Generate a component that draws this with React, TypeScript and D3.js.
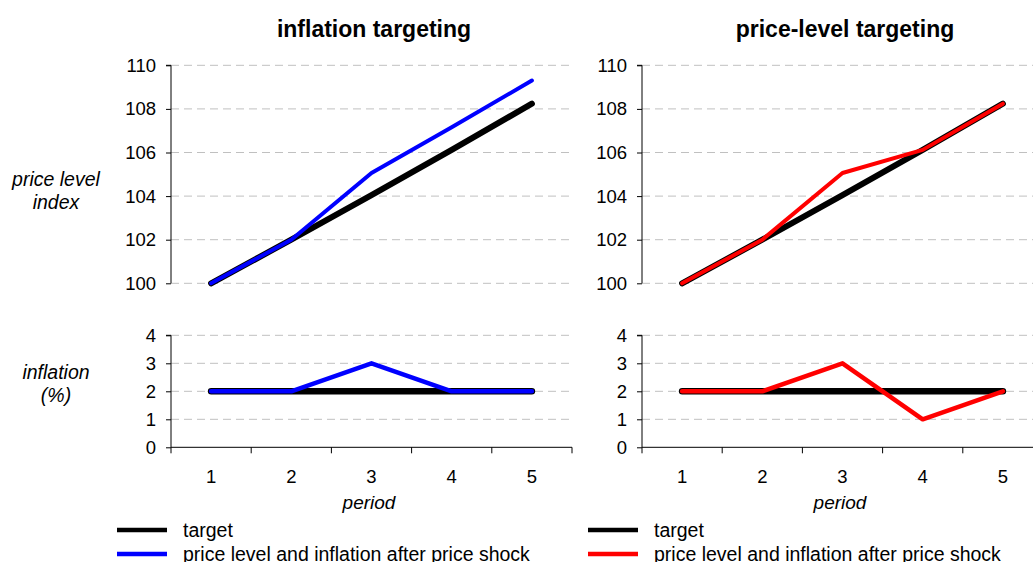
import { useEffect, useRef } from 'react';
import * as d3 from 'd3';

const periods = [1, 2, 3, 4, 5];
const priceTarget = [100, 102, 104.04, 106.12, 108.24];
const priceIT = [100, 102, 105.06, 107.16, 109.3];
const pricePLT = [100, 102, 105.06, 106.12, 108.24];
const inflTarget = [2, 2, 2, 2, 2];
const inflIT = [2, 2, 3, 2, 2];
const inflPLT = [2, 2, 3, 1, 2];
const priceTicks = [100, 102, 104, 106, 108, 110];
const inflTicks = [0, 1, 2, 3, 4];

const panels = [
  { title: 'inflation targeting', x0: 171, price: priceIT, infl: inflIT, color: '#0000ff' },
  { title: 'price-level targeting', x0: 642, price: pricePLT, infl: inflPLT, color: '#ff0000' },
];

const font = "'Liberation Sans', Arial, sans-serif";

function App() {
  const svgRef = useRef<SVGSVGElement | null>(null);
  const width = 1033;
  const height = 562;

  useEffect(() => {
    const svg = d3.select(svgRef.current);
    svg.selectAll('*').remove();

    const yTop = d3.scaleLinear().domain([100, 110]).range([283.3, 65.3]);
    const yBot = d3.scaleLinear().domain([0, 4]).range([447.3, 335.3]);

    panels.forEach((p) => {
      const x = d3.scaleBand<number>().domain(periods).range([p.x0, p.x0 + 401]);
      const cx = (d: number) => (x(d) as number) + x.bandwidth() / 2;
      const g = svg.append('g');

      g.append('text')
        .attr('x', p.x0 + 203)
        .attr('y', 37)
        .attr('text-anchor', 'middle')
        .attr('font-weight', 'bold')
        .attr('font-size', 23)
        .text(p.title);

      const drawPanel = (
        y: d3.ScaleLinear<number, number>,
        ticks: number[],
        series: { v: number[]; c: string; w: number }[],
        baseAxis: boolean,
      ) => {
        // gridlines
        g.append('g')
          .selectAll('line')
          .data(baseAxis ? ticks.slice(1) : ticks)
          .enter()
          .append('line')
          .attr('x1', p.x0)
          .attr('x2', p.x0 + 401)
          .attr('y1', (d) => y(d))
          .attr('y2', (d) => y(d))
          .attr('stroke', '#c0c0c0')
          .attr('stroke-dasharray', '8,5');

        const ax = g
          .append('g')
          .attr('transform', `translate(${p.x0},0)`)
          .call(d3.axisLeft(y).tickValues(ticks).tickSize(5).tickPadding(10).tickFormat(d3.format('d')));
        ax.select('.domain').attr('stroke', '#000').attr('d', `M-5,${y.range()[1]}H0V${y.range()[0]}`);
        ax.selectAll('text').attr('font-size', 18.5).attr('font-family', font).attr('fill', '#000');

        series.forEach((s) => {
          const line = d3
            .line<number>()
            .x((_, i) => cx(periods[i]))
            .y((d) => y(d));
          g.append('path')
            .attr('d', line(s.v))
            .attr('fill', 'none')
            .attr('stroke', s.c)
            .attr('stroke-width', s.w)
            .attr('stroke-linecap', 'round')
            .attr('stroke-linejoin', 'round');
        });
      };

      drawPanel(
        yTop,
        priceTicks,
        [
          { v: priceTarget, c: '#000', w: 6 },
          { v: p.price, c: p.color, w: 4 },
        ],
        false,
      );
      drawPanel(
        yBot,
        inflTicks,
        [
          { v: inflTarget, c: '#000', w: 6.5 },
          { v: p.infl, c: p.color, w: 4.5 },
        ],
        true,
      );

      // x axis with ticks between categories
      const xa = g.append('g').attr('transform', `translate(0,${yBot(0)})`);
      xa.append('line').attr('x1', p.x0).attr('x2', p.x0 + 401).attr('stroke', '#000');
      xa.selectAll('line.tk')
        .data([...periods.map((d) => x(d) as number), p.x0 + 401])
        .enter()
        .append('line')
        .attr('class', 'tk')
        .attr('x1', (d) => d)
        .attr('x2', (d) => d)
        .attr('y1', 0)
        .attr('y2', 6)
        .attr('stroke', '#000');
      xa.selectAll('text')
        .data(periods)
        .enter()
        .append('text')
        .attr('x', (d) => cx(d))
        .attr('y', 36)
        .attr('text-anchor', 'middle')
        .attr('font-size', 18.5)
        .text((d) => d);

      g.append('text')
        .attr('x', p.x0 + 198)
        .attr('y', 509)
        .attr('text-anchor', 'middle')
        .attr('font-style', 'italic')
        .attr('font-size', 19)
        .text('period');

      // legend
      const legend = [
        { label: 'target', c: '#000' },
        { label: 'price level and inflation after price shock', c: p.color },
      ];
      const lx = p.x0 - 54;
      legend.forEach((l, i) => {
        const ly = 530 + i * 24;
        g.append('line')
          .attr('x1', lx)
          .attr('x2', lx + 50)
          .attr('y1', ly)
          .attr('y2', ly)
          .attr('stroke', l.c)
          .attr('stroke-width', 4.5);
        g.append('text')
          .attr('x', lx + 66)
          .attr('y', ly + 7)
          .attr('font-size', 19.5)
          .text(l.label);
      });
    });

    // row labels
    const rowLabels = [
      { lines: ['price level', 'index'], y: 186 },
      { lines: ['inflation', '(%)'], y: 379 },
    ];
    rowLabels.forEach((r) => {
      r.lines.forEach((t, i) => {
        svg
          .append('text')
          .attr('x', 56)
          .attr('y', r.y + i * 23)
          .attr('text-anchor', 'middle')
          .attr('font-style', 'italic')
          .attr('font-size', 19.5)
          .text(t);
      });
    });
  }, []);

  return (
    <svg
      ref={svgRef}
      width={width}
      height={height}
      style={{ position: 'absolute', left: 0, top: 0, background: '#fff', fontFamily: font }}
    />
  );
}

export default App;
